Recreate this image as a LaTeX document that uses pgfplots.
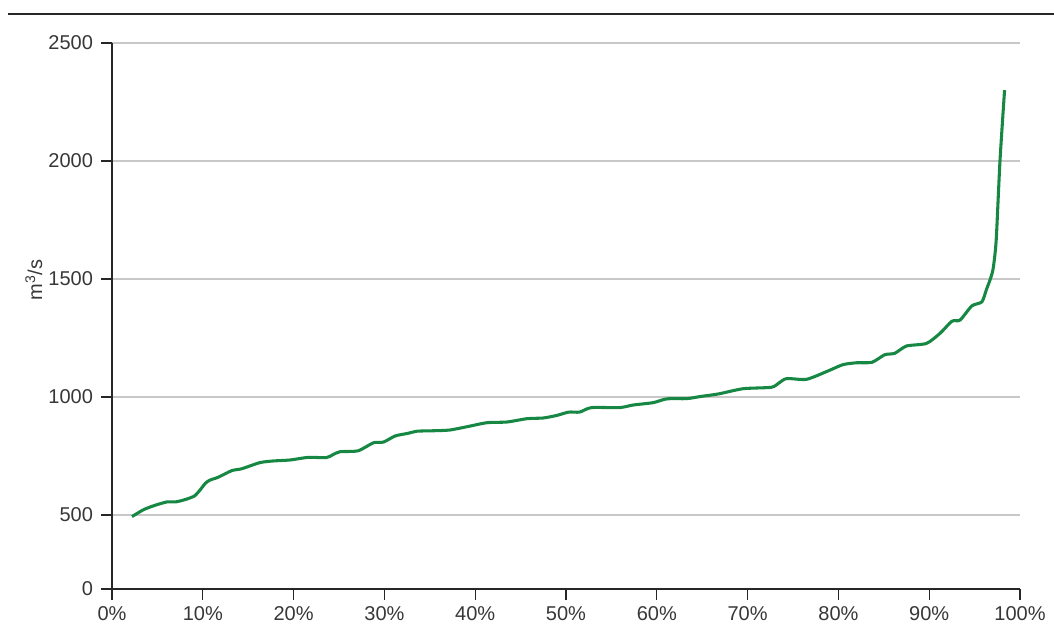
\documentclass[border=0pt]{standalone}
\usepackage{fontspec}
\setmainfont{Liberation Sans}
\usepackage{pgfplots}
\pgfplotsset{compat=1.18}
\definecolor{flowgreen}{RGB}{22,136,68}
\definecolor{txt}{RGB}{55,55,55}
\definecolor{gridc}{RGB}{200,200,200}
\begin{document}
\begin{tikzpicture}[x=1pt,y=1pt]
\useasboundingbox (0,0) rectangle (790.5,475.5);
\draw[black!85,line width=1pt] (6,465) -- (790.5,465);
\begin{axis}[
  at={(84pt,33.75pt)}, anchor=south west,
  scale only axis, width=681pt, height=409.5pt,
  xmin=0, xmax=100, ymin=186.4, ymax=2500,
  axis x line=bottom, axis y line=left,
  axis line style={-, black!85, line width=0.8pt},
  tick align=outside, major tick length=8.25pt,
  tick style={black!85, line width=0.8pt},
  xtick={0,10,...,100},
  xticklabels={0\%,10\%,20\%,30\%,40\%,50\%,60\%,70\%,80\%,90\%,100\%},
  ytick={186.4,500,1000,1500,2000,2500},
  yticklabels={0,500,1000,1500,2000,2500},
  ymajorgrids, grid style={gridc, line width=0.9pt},
  ticklabel style={font=\fontsize{15}{17}\selectfont, text=txt},
  yticklabel style={xshift=-2.5pt},
  xticklabel style={yshift=-1.5pt},
  /pgf/number format/assume math mode=true,
  ylabel={m\textsuperscript{3}/s},
  ylabel style={font=\fontsize{15}{17}\selectfont, text=txt,
    at={(axis description cs:-0.086,0.566)}, anchor=center},
  clip=false,
]
% flow duration curve: discharge exceeded for the given share of time
\addplot[flowgreen, line width=2.3pt, smooth, tension=0.4] coordinates {
(2.2,493) (3.4,521) (4.5,538) (6,555) (7.1,556) (8.2,567) (9.1,581)
(9.7,606) (10.3,635) (10.8,648) (11.7,660) (13.2,688) (14.3,696)
(16.3,722) (17.8,729) (19.6,733) (21.6,744) (23.6,743) (24.3,755)
(25.1,768) (27.1,772) (28.8,806) (29.9,809) (31.2,835) (32.6,846)
(33.6,855) (35.5,857) (37.2,860) (39.1,874) (41.3,891) (43.5,894)
(45.7,908) (47.5,911) (49.0,922) (50.3,936) (51.5,936) (52.8,955)
(55.9,955) (57.4,966) (59.6,976) (61.1,992) (63.3,993) (64.8,1002)
(66.8,1013) (69.5,1035) (72.6,1041) (73.4,1058) (74.3,1078) (76.5,1075)
(78.9,1111) (80.5,1137) (82.0,1145) (83.7,1147) (85.1,1179) (86.2,1185)
(87.5,1216) (89.7,1227) (91.2,1270) (92.5,1321) (93.4,1326) (94.7,1386)
(95.8,1403) (96.3,1455) (96.7,1496) (97.0,1535) (97.2,1590) (97.4,1679)
(97.8,2004) (98.3,2300)
};
\end{axis}
\end{tikzpicture}
\end{document}
